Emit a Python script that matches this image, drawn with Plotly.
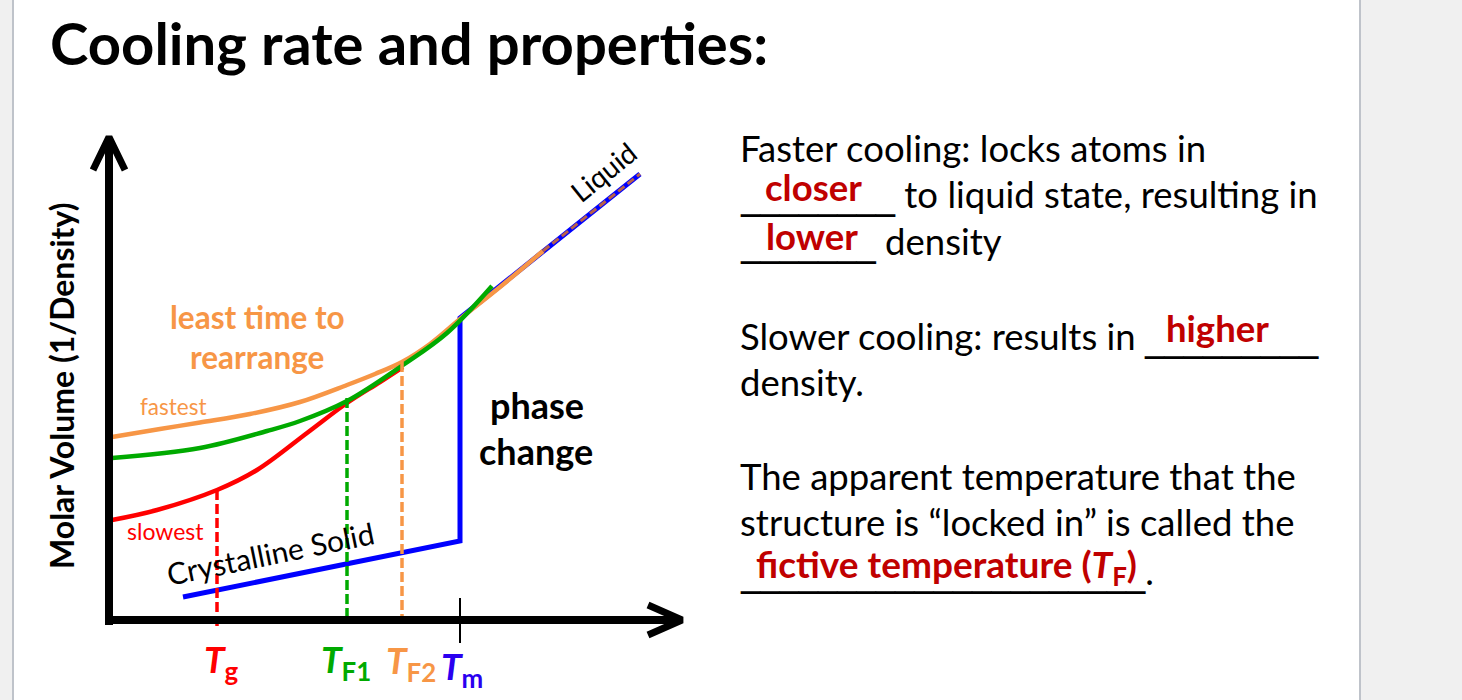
import plotly.graph_objects as go

W, H = 1462, 700
FONT = "Lato"
ZW = "\u200c"  # zero-width non-joiner: avoids the Lato "ti" ligature

# ---------------- data (arbitrary units: temperature T, molar volume V) ----------------
crystal_T = [1.48, 7.02, 7.02, 10.62]          # crystalline solid -> phase change -> liquid
crystal_V = [0.46, 1.58, 6.04, 8.92]

fastest_T = [0.06, 1.02, 1.82, 2.82, 3.82, 4.76, 5.32, 5.86, 6.42, 7.02, 7.82, 8.68]
fastest_V = [3.66, 3.82, 3.95, 4.12, 4.36, 4.70, 4.92, 5.16, 5.52, 6.02, 6.66, 7.38]

medium_T = [0.06, 1.82, 3.16, 3.82, 4.76, 5.88, 6.76, 7.66]
medium_V = [3.24, 3.44, 3.78, 3.98, 4.38, 5.10, 5.74, 6.68]

slowest_T = [0.06, 0.96, 2.16, 2.96, 3.96, 4.76, 5.42, 5.88]
slowest_V = [2.00, 2.20, 2.60, 3.00, 3.74, 4.34, 4.76, 5.06]

liquid_T = [8.68, 10.62]
liquid_V = [7.38, 8.92]

marker_names = ["Tg", "TF1", "TF2"]
marker_T = [2.16, 4.76, 5.86]
marker_V = [2.60, 4.44, 5.16]
Tm = 7.02

# axis geometry (arbitrary units)
yaxis_top = 9.62
xaxis_end = 11.42

ORANGE = "#F79646"
GREEN = "#00AA00"
RED = "#FF0000"
BLUE = "#0000FF"
DARKRED = "#C00000"

# pixel helpers for layout placement (paper coordinates)
def px(x):
    return x / W

def py(y):
    return 1 - y / H

fig = go.Figure()

def line(xs, ys, color, width, dash=None, shape="linear"):
    fig.add_trace(go.Scatter(x=xs, y=ys, mode="lines", hoverinfo="skip",
                             line=dict(color=color, width=width, dash=dash, shape=shape)))

line(crystal_T, crystal_V, BLUE, 5)
line(slowest_T, slowest_V, RED, 4.5, shape="spline")
line(fastest_T, fastest_V, ORANGE, 4.5, shape="spline")
line(medium_T, medium_V, GREEN, 4.5, shape="spline")
line(liquid_T, liquid_V, "#B8614A", 3, dash="8px,4px")

marker_colors = [RED, GREEN, ORANGE]
marker_bottom = [-0.14, 0, 0]
for t, v, c, b in zip(marker_T, marker_V, marker_colors, marker_bottom):
    line([t, t], [v, b], c, 3.5, dash="10px,4px")

# Tm tick
line([Tm, Tm], [0.44, -0.46], "black", 2)

# axes with open arrow heads
line([0, 0], [-0.1, yaxis_top - 0.05], "black", 8)
line([-0.32, 0, 0.32], [9.0, yaxis_top + 0.04, 9.0], "black", 7)
line([-0.06, xaxis_end - 0.05], [0, 0], "black", 8)
line([10.78, xaxis_end + 0.04, 10.78], [0.3, 0, -0.3], "black", 7)

ann = []

def text(x, y, s, size, color="black", xanchor="center", yanchor="middle", angle=0):
    ann.append(dict(x=x, y=y, xref="paper", yref="paper", text=s, showarrow=False,
                    xanchor=xanchor, yanchor=yanchor, textangle=angle,
                    font=dict(family=FONT, size=size, color=color)))

def blank(n):
    return '<span style="font-family:DejaVu Sans;font-size:38.5px">' + "_" * n + "</span>"

# title
text(px(48), py(43), f"<b>Cooling rate and proper{ZW}ties:</b>", 58, xanchor="left")

# y axis title
text(px(62), py(386), "<b>Molar Volume (1/Density)</b>", 32, angle=-90)

# diagram labels
text(px(257), py(317), f"<b>least {ZW}time to</b>", 31.5, ORANGE)
text(px(257), py(357), "<b>rearrange</b>", 31.5, ORANGE)
text(px(173), py(406), "fastest", 22.5, ORANGE)
text(px(165), py(531), "slowest", 23, RED)
text(px(537), py(405), "<b>phase</b>", 36)
text(px(536), py(451), "<b>change</b>", 36)
text(px(270), py(553), "Crystalline Solid", 30, angle=-11.5)
text(px(603), py(172), "Liquid", 28, angle=-39)

text(px(221), py(661), "<b><i>T</i><sub>g</sub></b>", 37, RED)
text(px(346), py(661), "<b><i>T</i><sub>F1</sub></b>", 37, GREEN)
text(px(411), py(662), "<b><i>T</i><sub>F2</sub></b>", 37, ORANGE)
text(px(462), py(668), "<b><i>T</i><sub>m</sub></b>", 37, "#2A00F0")
text(px(266), py(688), "<b>T</b>", 37, yanchor="top")

# right side text
body = 36.5
lines_right = [
    ("Faster cooling: locks atoms in", 148),
    (blank(8) + " to liquid state, resul" + ZW + "ting in", 194),
    (blank(7) + " density", 242),
    ("Slower cooling: results in " + blank(9), 336),
    ("density.", 382),
    ("The apparent temperature that the", 476),
    ("structure is “locked in” is called the", 522),
    (blank(21) + ".", 571),
]
for s, yy in lines_right:
    text(px(738), py(yy), s, body, xanchor="left")

text(px(814), py(187), "<b>closer</b>", body, DARKRED)
text(px(812), py(236), "<b>lower</b>", body, DARKRED)
text(px(1217), py(328), "<b>higher</b>", body, DARKRED)
text(px(946), py(566), f"<b>fic{ZW}tive temperature (<i>T</i><sub>F</sub>)</b>", 37, DARKRED)

shapes = [
    dict(type="rect", xref="paper", yref="paper", x0=0, x1=px(12), y0=0, y1=1,
         fillcolor="#F0F0F0", line=dict(width=0), layer="below"),
    dict(type="line", xref="paper", yref="paper", x0=px(13), x1=px(13), y0=0, y1=1,
         line=dict(color="#BFC3CA", width=2), layer="below"),
    dict(type="rect", xref="paper", yref="paper", x0=px(1361), x1=1, y0=0, y1=1,
         fillcolor="#F0F0F0", line=dict(width=0), layer="below"),
    dict(type="line", xref="paper", yref="paper", x0=px(1360), x1=px(1360), y0=0, y1=1,
         line=dict(color="#BFC3CA", width=2), layer="below"),
]

fig.update_layout(
    width=W, height=H,
    margin=dict(l=0, r=0, t=0, b=0),
    paper_bgcolor="white", plot_bgcolor="rgba(0,0,0,0)",
    showlegend=False,
    xaxis=dict(range=[-109 / 50, (W - 109) / 50], visible=False, fixedrange=True),
    yaxis=dict(range=[-(H - 620) / 50, 620 / 50], visible=False, fixedrange=True),
    annotations=ann,
    shapes=shapes,
)

fig.write_html(
    "out.html",
    config={"displayModeBar": False},
    post_script="document.documentElement.style.margin='0';document.body.style.margin='0';"
                "document.body.style.padding='0';document.body.style.overflow='hidden';",
)
